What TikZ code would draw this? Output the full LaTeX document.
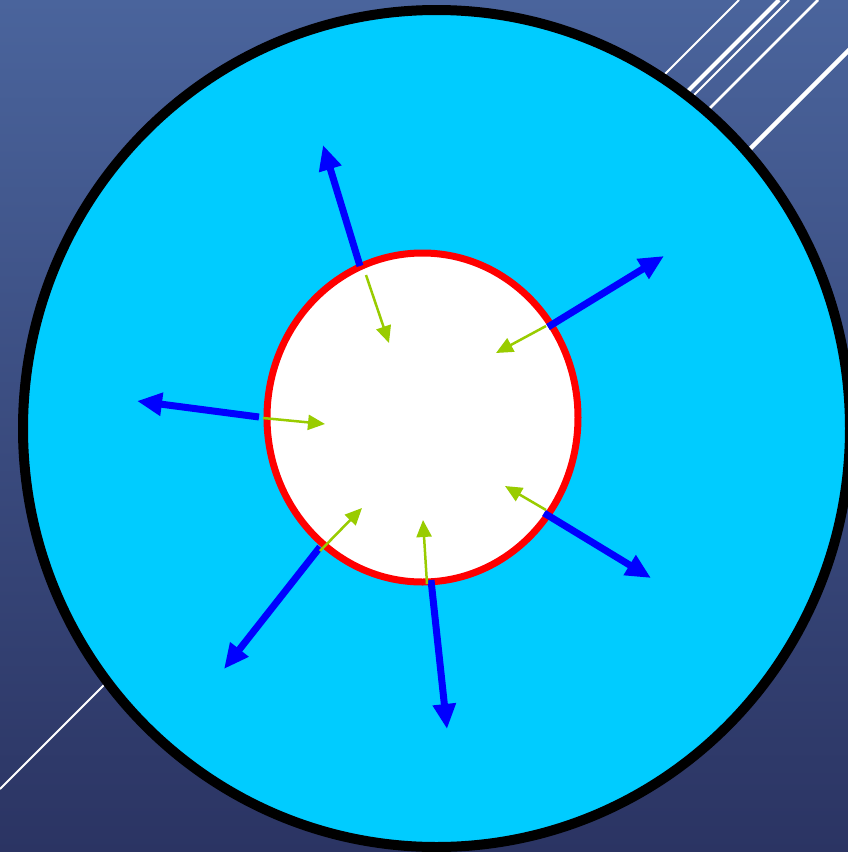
\documentclass[tikz,border=0pt]{standalone}
\usetikzlibrary{arrows.meta}
\definecolor{bgtop}{RGB}{74,100,156}
\definecolor{bgbot}{RGB}{43,52,99}
\definecolor{cyanfill}{RGB}{0,204,255}
\definecolor{pureblue}{RGB}{0,0,255}
\definecolor{limegreen}{RGB}{153,204,0}
\begin{document}
\begin{tikzpicture}[x=1pt,y=-1pt,
  deco/.style={white,line cap=butt},
  outarrow/.style={pureblue,line width=7pt,-{Triangle[length=25pt,width=22pt]}},
  inarrow/.style={limegreen,line width=2.5pt,-{Triangle[length=17pt,width=15pt]}}]
\useasboundingbox (0,0) rectangle (848,852);
\shade[top color=bgtop,bottom color=bgbot] (0,0) rectangle (848,852);
\begin{scope}
\clip (0,0) rectangle (848,852);
% decorative diagonal lines
\coordinate (a1) at (600,139); \coordinate (a2) at (739,0);
\coordinate (b1) at (640,139); \coordinate (b2) at (779,0);
\coordinate (c1) at (0,789);   \coordinate (c2) at (789,0);
\coordinate (d1) at (660,158); \coordinate (d2) at (818,0);
\coordinate (e1) at (720,179); \coordinate (e2) at (899,0);
\draw[deco,line width=2pt] (a1) -- (a2);
\draw[deco,line width=4pt] (b1) -- (b2);
\draw[deco,line width=2pt] (c1) -- (c2);
\draw[deco,line width=2.5pt] (d1) -- (d2);
\draw[deco,line width=4.5pt] (e1) -- (e2);
% outer circle
\coordinate (oc) at (436.5,428.5);
\draw[fill=cyanfill,draw=black,line width=10pt] (oc) ellipse [x radius=413.5,y radius=418.5];
\end{scope}
% inner circle
\coordinate (ic) at (422.5,417.5);
\draw[fill=white,draw=red,line width=7pt] (ic) ellipse [x radius=155.5,y radius=164.5];
% outward blue arrows
\coordinate (s1) at (360,266); \coordinate (t1) at (323,145);
\coordinate (s2) at (259,417); \coordinate (t2) at (137,401);
\coordinate (s3) at (548,327); \coordinate (t3) at (664,256);
\coordinate (s4) at (544,513); \coordinate (t4) at (651,578);
\coordinate (s5) at (431,580); \coordinate (t5) at (447,729);
\coordinate (s6) at (320,547); \coordinate (t6) at (224,669);
\foreach \i in {1,...,6} \draw[outarrow] (s\i) -- (t\i);
% inward green arrows
\coordinate (g1) at (366,275); \coordinate (h1) at (389,343);
\coordinate (g2) at (546,326); \coordinate (h2) at (496,353);
\coordinate (g3) at (263,418); \coordinate (h3) at (325,424);
\coordinate (g4) at (546,510); \coordinate (h4) at (505,486);
\coordinate (g5) at (427,584); \coordinate (h5) at (423,520);
\coordinate (g6) at (320,551); \coordinate (h6) at (362,508);
\foreach \i in {1,...,6} \draw[inarrow] (g\i) -- (h\i);
\end{tikzpicture}
\end{document}
